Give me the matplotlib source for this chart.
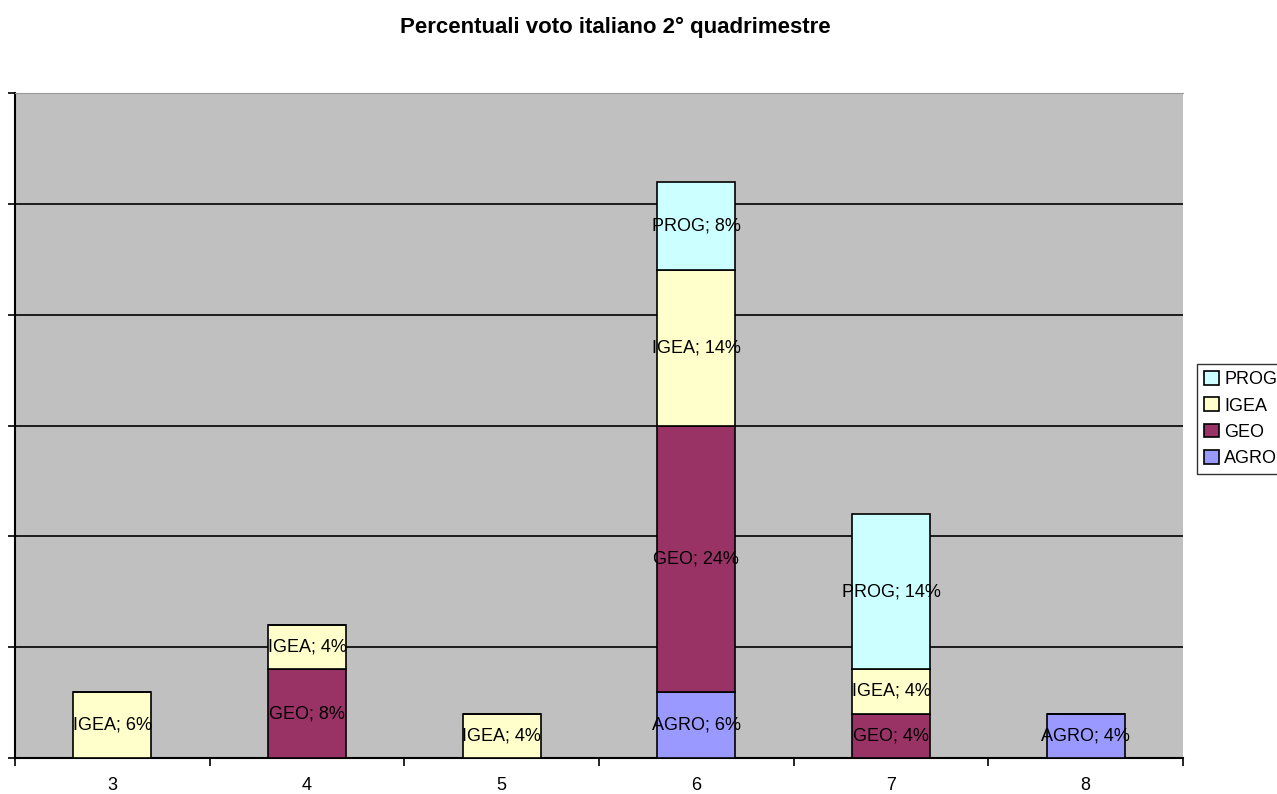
import numpy as np
import matplotlib.pyplot as plt

plt.rcParams['font.family'] = ['Liberation Sans', 'DejaVu Sans']

# dati
voti = ['3', '4', '5', '6', '7', '8']
agro = [0, 0, 0, 6, 0, 4]
geo = [0, 8, 0, 24, 4, 0]
igea = [6, 4, 4, 14, 4, 0]
prog = [0, 0, 0, 8, 14, 0]

serie = [('AGRO', agro, '#9999FF'), ('GEO', geo, '#993366'),
         ('IGEA', igea, '#FFFFCC'), ('PROG', prog, '#CCFFFF')]

fig = plt.figure(figsize=(12.77, 7.94), dpi=100)
ax = fig.add_axes([15/1277, 36/794, (1183-15)/1277, (758-93)/794])
ax.set_facecolor('#C0C0C0')

x = np.arange(len(voti))
base = np.zeros(len(voti))
handles = []
for nome, vals, col in serie:
    vals = np.array(vals, dtype=float)
    bars = ax.bar(x, vals, width=0.4, bottom=base, color=col,
                  edgecolor='black', linewidth=1.2, zorder=3, label=nome)
    for xi, b, v in zip(x, base, vals):
        if v > 0:
            ax.text(xi, b + v / 2, f'{nome}; {int(v)}%', ha='center',
                    va='center', fontsize=13, color='black', zorder=4)
    handles.append(bars)
    base += vals

ax.set_xlim(-0.5, len(voti) - 0.5)
ax.set_ylim(0, 60)
ax.set_yticks(np.arange(0, 61, 10))
ax.set_yticklabels([])
for y in range(10, 60, 10):
    ax.axhline(y, color='black', linewidth=1.2, zorder=1)

ax.set_xticks(x)
ax.set_xticklabels(voti, fontsize=13)
ax.set_xticks(np.arange(-0.5, len(voti), 1), minor=True)
ax.tick_params(axis='x', which='major', length=0, pad=20)
ax.tick_params(axis='x', which='minor', length=6, width=1.2, direction='out')
ax.tick_params(axis='y', length=5, width=1.2, direction='out')
for lbl in ax.get_xticklabels():
    lbl.set_verticalalignment('center')

ax.spines['left'].set_linewidth(1.5)
ax.spines['bottom'].set_linewidth(1.5)
ax.spines['top'].set_color('#999999')
ax.spines['right'].set_visible(False)

fig.suptitle('Percentuali voto italiano 2° quadrimestre', x=615/1277, y=1 - 27/794,
             va='center', fontsize=16, fontweight='bold')

leg = fig.legend(handles[::-1], [s[0] for s in serie][::-1],
                 loc='upper left', bbox_to_anchor=(1197/1277, 1 - 364/794),
                 fontsize=13, frameon=True, fancybox=False, edgecolor='black',
                 handlelength=0.8, handleheight=0.8, handletextpad=0.3,
                 borderpad=0.4, labelspacing=0.5, borderaxespad=0)
leg.get_frame().set_linewidth(1.0)

fig.savefig('out.png', dpi=100)
